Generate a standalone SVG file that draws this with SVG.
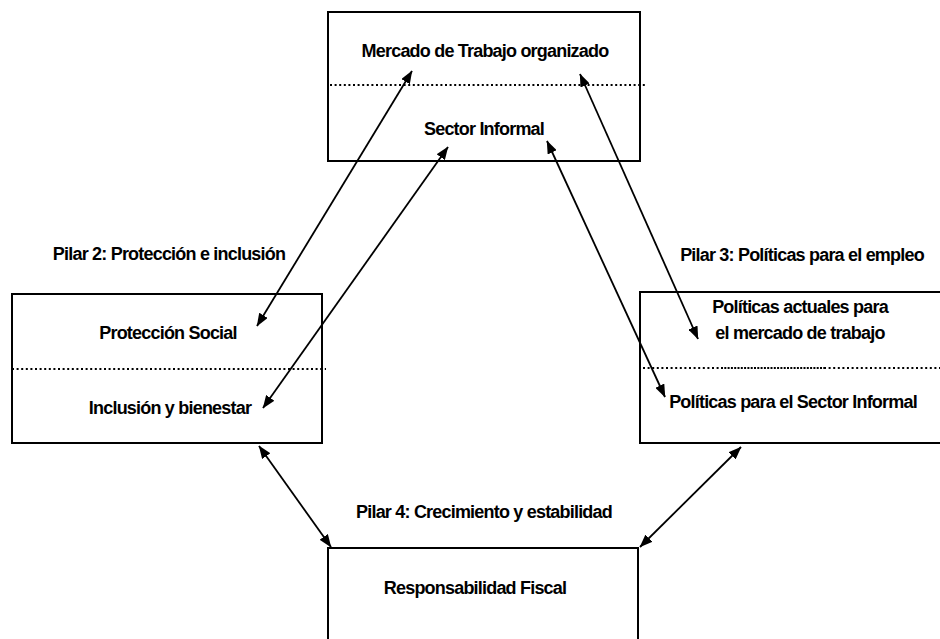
<svg xmlns="http://www.w3.org/2000/svg" width="940" height="639" viewBox="0 0 940 639">
<style>
.box{fill:none;stroke:#000;stroke-width:2}
.dot{fill:none;stroke:#000;stroke-width:2;stroke-dasharray:2 2.6}
.dense{fill:none;stroke:#000;stroke-width:2.2;stroke-dasharray:2 1.3}
.t{font-family:"Liberation Sans",Arial,sans-serif;font-size:18px;font-weight:bold;letter-spacing:-0.8px;text-anchor:middle;fill:#000}
.arr{stroke:#000;stroke-width:1.8;fill:none;marker-start:url(#ah);marker-end:url(#ah)}
</style>
<defs>
<marker id="ah" markerUnits="userSpaceOnUse" markerWidth="13" markerHeight="10" refX="12.5" refY="5" orient="auto-start-reverse" viewBox="0 0 13 10">
<path d="M0,0 L13,5 L0,10 z" fill="#000"/>
</marker>
</defs>
<rect width="940" height="639" fill="#fff"/>
<g id="labels">
<text class="t" x="169" y="260">Pilar 2: Protección e inclusión</text>
<text class="t" x="802" y="261">Pilar 3: Políticas para el empleo</text>
<text class="t" x="484" y="518">Pilar 4: Crecimiento y estabilidad</text>
</g>
<g id="node-top">
<rect class="box" x="328" y="12" width="312" height="149"/>
<line class="dot" x1="330" y1="85" x2="645" y2="85"/>
<text class="t" x="485" y="57">Mercado de Trabajo organizado</text>
<text class="t" x="484" y="135">Sector Informal</text>
</g>
<g id="node-left">
<rect class="box" x="12" y="294" width="310" height="149"/>
<line class="dot" x1="12" y1="369" x2="326" y2="369"/>
<text class="t" x="168" y="339">Protección Social</text>
<text class="t" x="170" y="414">Inclusión y bienestar</text>
</g>
<g id="node-right">
<rect class="box" x="640" y="292" width="320" height="151"/>
<line class="dot" x1="643" y1="368" x2="721" y2="368"/>
<line class="dense" x1="721" y1="368" x2="824" y2="368"/>
<line class="dot" x1="824" y1="368" x2="940" y2="368"/>
<text class="t" x="800" y="313">Políticas actuales para</text>
<text class="t" x="800" y="339">el mercado de trabajo</text>
<text class="t" x="793" y="408">Políticas para el Sector Informal</text>
</g>
<g id="node-bottom">
<rect class="box" x="328" y="548" width="310" height="110"/>
<text class="t" x="475" y="594">Responsabilidad Fiscal</text>
</g>
<g id="connectors">
<line class="arr" x1="412" y1="71" x2="257" y2="326"/>
<line class="arr" x1="448" y1="147" x2="263" y2="408"/>
<line class="arr" x1="580" y1="74" x2="698" y2="339"/>
<line class="arr" x1="547" y1="141" x2="665" y2="397"/>
<line class="arr" x1="259" y1="446" x2="331" y2="547"/>
<line class="arr" x1="741" y1="447" x2="640" y2="547"/>
</g>
</svg>
